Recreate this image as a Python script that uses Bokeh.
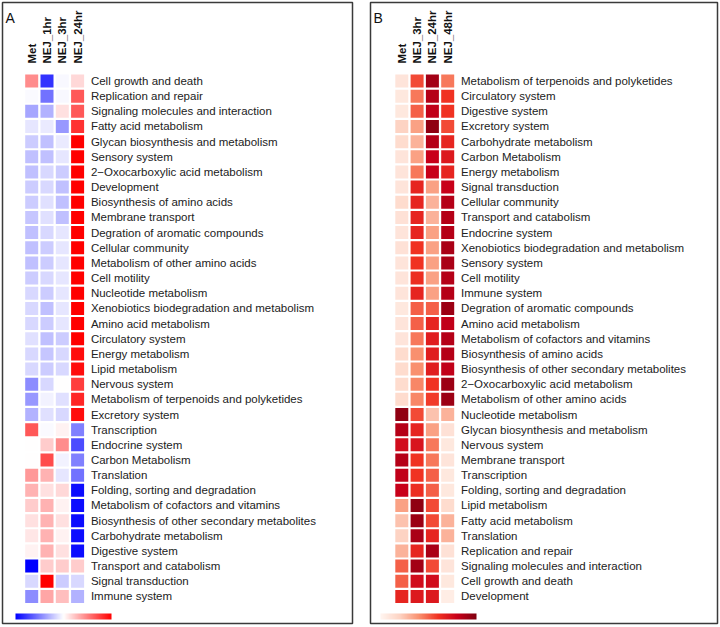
import numpy as np
from bokeh.plotting import figure
from bokeh.models import (ColumnDataSource, LinearColorMapper, ColorBar, Range1d, Label,
                          FixedTicker)
from bokeh.transform import transform
from bokeh.layouts import row
from bokeh.core.properties import value
from bokeh.embed import file_html
from bokeh.resources import INLINE

# ---------------- Panel A data ----------------
cols_a = ["Met", "NEJ_1hr", "NEJ_3hr", "NEJ_24hr"]
rows_a = [
    "Cell growth and death", "Replication and repair", "Signaling molecules and interaction",
    "Fatty acid metabolism", "Glycan biosynthesis and metabolism", "Sensory system",
    "2\u2212Oxocarboxylic acid metabolism", "Development", "Biosynthesis of amino acids",
    "Membrane transport", "Degration of aromatic compounds", "Cellular community",
    "Metabolism of other amino acids", "Cell motility", "Nucleotide metabolism",
    "Xenobiotics biodegradation and metabolism", "Amino acid metabolism", "Circulatory system",
    "Energy metabolism", "Lipid metabolism", "Nervous system",
    "Metabolism of terpenoids and polyketides", "Excretory system", "Transcription",
    "Endocrine system", "Carbon Metabolism", "Translation", "Folding, sorting and degradation",
    "Metabolism of cofactors and vitamins", "Biosynthesis of other secondary metabolites",
    "Carbohydrate metabolism", "Digestive system", "Transport and catabolism",
    "Signal transduction", "Immune system",
]
met_a = [0.45, -0.02, -0.35, -0.10, -0.20, -0.25, -0.25, -0.20, -0.20, -0.22, -0.25, -0.25,
         -0.25, -0.20, -0.15, -0.15, -0.15, -0.12, -0.15, -0.15, -0.45, -0.40, -0.30, 0.65,
         0.00, 0.00, 0.40, 0.30, 0.20, 0.12, 0.10, 0.05, -1.00, -0.15, -0.45]
nej1_a = [-0.80, -0.55, -0.30, -0.08, -0.25, -0.25, -0.15, -0.15, -0.12, -0.12, -0.15, -0.20,
          -0.20, -0.15, -0.20, -0.25, -0.20, -0.25, -0.22, -0.20, -0.15, -0.05, -0.12, -0.02,
          0.20, 0.70, 0.30, 0.12, 0.30, 0.30, 0.30, 0.30, 0.20, 1.00, 0.35]
nej3_a = [-0.03, -0.03, 0.12, -0.40, -0.08, -0.10, -0.20, -0.25, -0.25, -0.25, -0.10, -0.10,
          -0.10, -0.10, -0.10, -0.10, -0.10, -0.20, -0.15, -0.15, 0.00, -0.12, -0.15, 0.05,
          0.45, -0.05, -0.10, 0.15, 0.05, 0.12, 0.05, 0.12, 0.20, -0.20, 0.25]
nej24_a = [0.15, 0.65, 0.65, 0.80, 1.00, 1.00, 1.00, 1.00, 1.00, 1.00, 1.00, 1.00,
           1.00, 1.00, 1.00, 1.00, 1.00, 1.00, 0.95, 0.95, 0.75, 0.85, 0.95, -0.50,
           -0.70, -0.50, -0.55, -0.95, -0.95, -0.95, -0.95, -0.95, 0.20, -0.15, -0.30]

# ---------------- Panel B data ----------------
cols_b = ["Met", "NEJ_3hr", "NEJ_24hr", "NEJ_48hr"]
rows_b = [
    "Metabolism of terpenoids and polyketides", "Circulatory system", "Digestive system",
    "Excretory system", "Carbohydrate metabolism", "Carbon Metabolism", "Energy metabolism",
    "Signal transduction", "Cellular community", "Transport and catabolism", "Endocrine system",
    "Xenobiotics biodegradation and metabolism", "Sensory system", "Cell motility",
    "Immune system", "Degration of aromatic compounds", "Amino acid metabolism",
    "Metabolism of cofactors and vitamins", "Biosynthesis of amino acids",
    "Biosynthesis of other secondary metabolites", "2\u2212Oxocarboxylic acid metabolism",
    "Metabolism of other amino acids", "Nucleotide metabolism",
    "Glycan biosynthesis and metabolism", "Nervous system", "Membrane transport",
    "Transcription", "Folding, sorting and degradation", "Lipid metabolism",
    "Fatty acid metabolism", "Translation", "Replication and repair",
    "Signaling molecules and interaction", "Cell growth and death", "Development",
]
met_b = [0.10, 0.08, 0.08, 0.20, 0.15, 0.10, 0.10, 0.10, 0.15, 0.12, 0.10, 0.12, 0.10, 0.10,
         0.10, 0.08, 0.10, 0.10, 0.15, 0.15, 0.15, 0.15, 0.95, 0.85, 0.75, 0.85, 0.82, 0.80,
         0.35, 0.25, 0.20, 0.30, 0.50, 0.50, 0.65]
nej3_b = [0.55, 0.45, 0.50, 0.35, 0.30, 0.35, 0.45, 0.65, 0.65, 0.65, 0.65, 0.60, 0.60, 0.62,
          0.65, 0.50, 0.50, 0.45, 0.40, 0.40, 0.42, 0.42, 0.55, 0.65, 0.72, 0.60, 0.60, 0.62,
          0.95, 0.92, 0.88, 0.65, 0.90, 0.75, 0.70]
nej24_b = [0.90, 0.85, 0.82, 0.95, 0.85, 0.80, 0.80, 0.35, 0.30, 0.30, 0.35, 0.35, 0.35, 0.35,
           0.35, 0.50, 0.65, 0.68, 0.68, 0.68, 0.60, 0.58, 0.25, 0.35, 0.45, 0.45, 0.50, 0.50,
           0.55, 0.55, 0.65, 0.88, 0.55, 0.75, 0.70]
nej48_b = [0.45, 0.60, 0.60, 0.55, 0.65, 0.70, 0.65, 0.80, 0.85, 0.85, 0.85, 0.88, 0.88, 0.85,
           0.85, 0.92, 0.82, 0.85, 0.85, 0.82, 0.92, 0.92, 0.30, 0.12, 0.08, 0.10, 0.08, 0.08,
           0.15, 0.30, 0.30, 0.12, 0.10, 0.08, 0.05]


def ramp(anchors, n=256):
    pos = np.array([a[0] for a in anchors])
    rgb = np.array([[int(a[1][i:i + 2], 16) for i in (1, 3, 5)] for a in anchors], float)
    out = []
    for tt in np.linspace(0, 1, n):
        c = [int(round(np.interp(tt, pos, rgb[:, k]))) for k in range(3)]
        out.append("#%02x%02x%02x" % tuple(c))
    return out


pal_a = ramp([(0.0, "#0000ff"), (0.5, "#ffffff"), (1.0, "#ff0000")])
pal_b = ramp([(0.0, "#fff5f0"), (0.2, "#fdd3c3"), (0.4, "#f9906f"), (0.6, "#f03222"),
              (0.8, "#c8001a"), (1.0, "#7f0010")])

FONT = "Liberation Sans"
H = 625
MB = 2
FH = H - 2 * MB
PX, PY = 15.3, 15.16


def panel(letter, cols, rows, series, palette, low, high, W, met_px, cb_x):
    n = len(rows)
    FW = W - 2 * MB
    xs, ys, vs = [], [], []
    for j, s in enumerate(series):
        for i, v in enumerate(s):
            xs.append(j)
            ys.append(-i)
            vs.append(v)
    src = ColumnDataSource(dict(x=xs, y=ys, v=vs))
    a = met_px / PX
    top = 78.5 / PY
    p = figure(width=W, height=H, output_backend="svg", toolbar_location=None, tools="",
               x_range=Range1d(-a, -a + FW / PX), y_range=Range1d(top - FH / PY, top),
               min_border=MB, min_border_left=MB, min_border_right=MB,
               min_border_top=MB, min_border_bottom=MB)
    p.axis.visible = False
    p.grid.visible = False
    p.outline_line_color = "#3a3a3a"
    p.outline_line_width = 1.5
    p.background_fill_color = "white"
    p.border_fill_color = "white"
    mapper = LinearColorMapper(palette=palette, low=low, high=high)
    p.rect(x="x", y="y", width=13 / PX, height=13 / PY, source=src,
           fill_color=transform("v", mapper), line_color=None)
    p.text(x=[3.87] * n, y=[-i for i in range(n)], text=rows,
           text_font=value(FONT), text_font_size="11.5px", text_color="#222222",
           text_align="left", text_baseline="middle")
    p.text(x=list(range(len(cols))), y=[1.15] * len(cols), text=cols, angle=np.pi / 2,
           text_font=value(FONT), text_font_size="11.5px", text_font_style="bold",
           text_color="#111111", text_align="left", text_baseline="middle")
    p.add_layout(Label(x=3, y=FH - 7, x_units="screen", y_units="screen", text=letter,
                       text_font=FONT, text_font_size="14px", text_color="#111111",
                       text_baseline="top", text_align="left"))
    cb = ColorBar(color_mapper=mapper, orientation="horizontal", location=(cb_x, 4),
                  width=96, height=6, padding=0, margin=0,
                  ticker=FixedTicker(ticks=[]), major_tick_out=0, major_tick_in=0,
                  label_standoff=0,
                  major_tick_line_color=None, minor_tick_line_color=None,
                  bar_line_color=None, border_line_color=None, background_fill_alpha=0)
    p.add_layout(cb, "center")
    return p


pA = panel("A", cols_a, rows_a, [met_a, nej1_a, nej3_a, nej24_a], pal_a, -1, 1, 354, 29.2, 13)
pB = panel("B", cols_b, rows_b, [met_b, nej3_b, nej24_b, nej48_b], pal_b, 0, 1, 351, 31.3, 10)

layout = row(pA, pB, spacing=14)
open("out.html", "w").write(file_html(layout, INLINE))
